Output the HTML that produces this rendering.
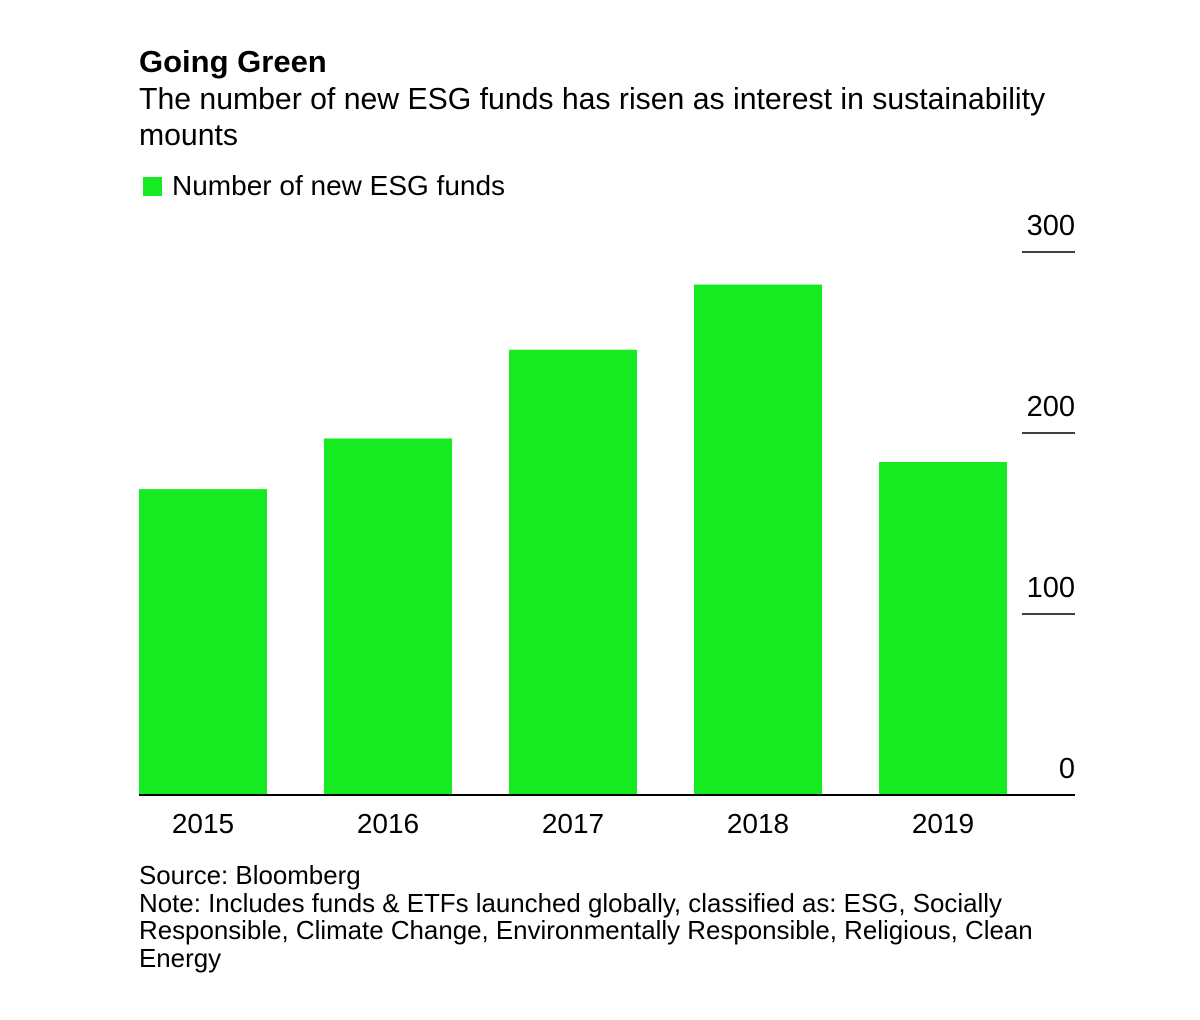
<!DOCTYPE html>
<html><head><meta charset="utf-8"><style>
body{margin:0;width:1200px;height:1020px;background:#fff;font-family:"Liberation Sans",sans-serif;color:#000;position:relative;overflow:hidden}
.t{position:absolute;white-space:nowrap}
</style></head><body>
<div class="t" style="left:139px;top:44px;font-size:31px;font-weight:bold">Going Green</div>
<div class="t" style="left:139px;top:82px;font-size:30.2px;line-height:36px;white-space:normal;width:940px">The number of new ESG funds has risen as interest in sustainability mounts</div>
<div style="position:absolute;left:143px;top:177px;width:19px;height:19px;background:#16eb22"></div>
<div class="t" style="left:172px;top:170px;font-size:28px">Number of new ESG funds</div>
<svg id="chart" width="1200" height="1020" style="position:absolute;left:0;top:0"></svg>
<div class="t" style="left:139px;top:863px;font-size:25.9px;line-height:27.5px;white-space:normal;width:930px">Source: Bloomberg<br>Note: Includes funds &amp; ETFs launched globally, classified as: ESG, Socially Responsible, Climate Change, Environmentally Responsible, Religious, Clean Energy</div>
<script>
const categories=["2015","2016","2017","2018","2019"];
const values=[169,197,246,282,184];
const ticks=[0,100,200,300];
const svg=document.getElementById('chart');
const NS='http://www.w3.org/2000/svg';
const y0=795,pxPer=1.81;
function y(v){return y0-v*pxPer;}
function x(i){return 139+i*185;}
function mk(t,a){const e=document.createElementNS(NS,t);for(const k in a)e.setAttribute(k,a[k]);svg.appendChild(e);return e;}
categories.forEach((c,i)=>{
 const r=mk('rect',{x:x(i),y:y(values[i]),width:128,height:y0-y(values[i]),fill:'#16eb22'});
 
 
 const t=mk('text',{x:x(i)+64,y:833,'text-anchor':'middle','font-size':28,'font-family':'Liberation Sans, sans-serif'});
 t.textContent=c;
 
 
});
ticks.forEach(v=>{
 if(v>0){const l=mk('line',{x1:1022,x2:1075,y1:y(v),y2:y(v),stroke:'#000','stroke-width':1.5});
 
 }
 const t=mk('text',{x:1075,y:y(v)-17,'text-anchor':'end','font-size':29,'font-family':'Liberation Sans, sans-serif'});
 t.textContent=v;
 
 
});
const ax=mk('line',{x1:139,x2:1075,y1:y0,y2:y0,stroke:'#000','stroke-width':2});


</script>
</body></html>
